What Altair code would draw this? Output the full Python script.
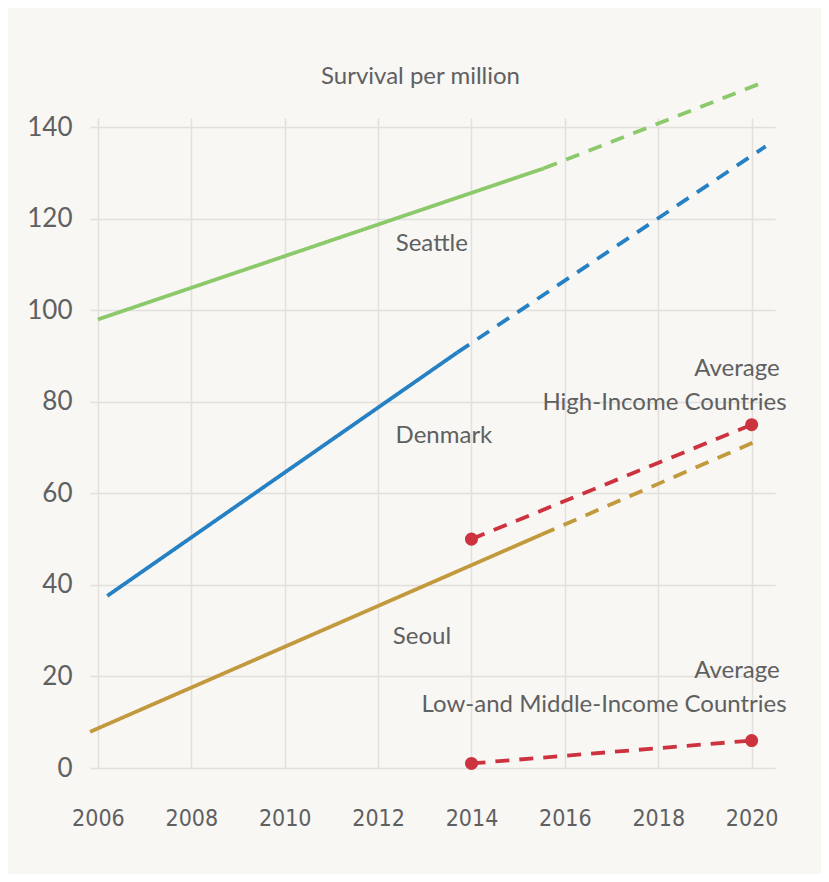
import altair as alt
import pandas as pd

# ---- data ----
series_names = ["Seattle", "Denmark", "Seoul", "High", "Low"]
colors = ["#8cc96b", "#2581c3", "#c29a3d", "#cc333f", "#cc333f"]

seattle_solid = [(2006.0, 98.0), (2015.55, 131.0)]
seattle_dash = [(2015.55, 131.0), (2020.3, 150.0)]
denmark_solid = [(2006.2, 37.6), (2013.7, 90.8)]
denmark_dash = [(2013.7, 90.8), (2020.3, 135.8)]
seoul_solid = [(2005.83, 7.9), (2015.5, 51.0)]
seoul_dash = [(2015.5, 51.0), (2020.1, 71.4)]
high_dash = [(2014.0, 50.0), (2020.0, 75.0)]
low_dash = [(2014.0, 1.0), (2020.0, 6.0)]

label_text = ["Seattle", "Denmark", "Seoul", "Average", "High-Income Countries",
              "Average", "Low-and Middle-Income Countries"]
label_year = [2013.15, 2013.41, 2012.94, 2020.6, 2020.75, 2020.6, 2020.75]
label_value = [114.5, 72.5, 28.6, 87.2, 79.7, 21.2, 13.8]
label_align = ["center", "center", "center", "right", "right", "right", "right"]

x_ticks = [2006, 2008, 2010, 2012, 2014, 2016, 2018, 2020]
y_ticks = [0, 20, 40, 60, 80, 100, 120, 140]

rows = []
def add(name, seg, pts):
    for i, (yr, v) in enumerate(pts):
        rows.append({"series": name, "seg": seg, "key": f"{name}-{seg}",
                     "year": yr, "value": v, "order": i})

add("Seattle", "solid", seattle_solid)
add("Seattle", "dash", seattle_dash)
add("Denmark", "solid", denmark_solid)
add("Denmark", "dash", denmark_dash)
add("Seoul", "solid", seoul_solid)
add("Seoul", "dash", seoul_dash)
add("High", "dash", high_dash)
add("Low", "dash", low_dash)
df = pd.DataFrame(rows)

pts = df[df["series"].isin(["High", "Low"])]

labels = pd.DataFrame({"text": label_text, "year": label_year,
                       "value": label_value, "align": label_align})

FONT = "Lato"
GREY = "#5f6061"

x_scale = alt.Scale(domain=[2005.83, 2020.5], nice=False, zero=False)
y_scale = alt.Scale(domain=[0, 142], nice=False)

x_enc = alt.X("year:Q", scale=x_scale,
              axis=alt.Axis(values=x_ticks, format="d", title=None, domain=False,
                            ticks=False, labelPadding=39, labelFontSize=23,
                            labelFont="Liberation Sans Narrow, DejaVu Sans Condensed, Roboto Condensed, Lato",
                            labelColor=GREY, gridColor="#e2e0dc", gridWidth=1.5,
                            labelFlush=False))
y_enc = alt.Y("value:Q", scale=y_scale,
              axis=alt.Axis(values=y_ticks, title=None, domain=False, ticks=False,
                            labelPadding=18, labelFontSize=26, labelFont=FONT,
                            labelColor=GREY, gridColor="#e2e0dc", gridWidth=1.5))

color_scale = alt.Scale(domain=series_names, range=colors)

lines = alt.Chart(df).mark_line(strokeWidth=3.8, clip=False).encode(
    x=x_enc,
    y=y_enc,
    detail="key:N",
    order="order:Q",
    color=alt.Color("series:N", scale=color_scale, legend=None),
    strokeDash=alt.StrokeDash("seg:N",
                              scale=alt.Scale(domain=["solid", "dash"], range=[[1, 0], [14, 10]]),
                              legend=None),
)

dots = alt.Chart(pts).mark_circle(size=170, opacity=1).encode(
    x="year:Q", y="value:Q",
    color=alt.Color("series:N", scale=color_scale, legend=None),
)

text_center = alt.Chart(labels[labels["align"] == "center"]).mark_text(
    font=FONT, fontSize=24, color=GREY, align="center", baseline="middle"
).encode(x="year:Q", y="value:Q", text="text:N")

text_right = alt.Chart(labels[labels["align"] == "right"]).mark_text(
    font=FONT, fontSize=24, color=GREY, align="right", baseline="middle"
).encode(x="year:Q", y="value:Q", text="text:N")

chart = alt.layer(lines, dots, text_center, text_right).properties(
    width=685, height=650,
    title=alt.Title("Survival per million", font=FONT, fontSize=24, fontWeight="normal",
                    color=GREY, anchor="middle", dx=-12, offset=-15),
    autosize=alt.AutoSizeParams(type="none"),
    padding={"left": 82, "top": 110, "right": 46, "bottom": 106},
    background="#f8f7f4",
).configure_view(stroke=None)

chart.save("out.html", embed_options={"renderer": "svg", "actions": False})
